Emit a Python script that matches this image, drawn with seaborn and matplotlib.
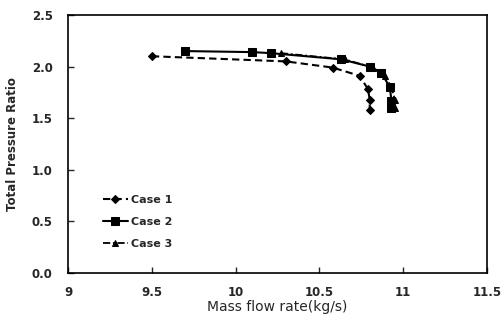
import numpy as np
import pandas as pd
import matplotlib
matplotlib.use("Agg")
import matplotlib.pyplot as plt
import seaborn as sns

# values
case1_flow = [9.50, 10.30, 10.58, 10.74, 10.79, 10.80, 10.80]
case1_pr = [2.10, 2.05, 1.99, 1.91, 1.78, 1.68, 1.58]

case2_flow = [9.70, 10.10, 10.21, 10.63, 10.80, 10.87, 10.92, 10.93, 10.93]
case2_pr = [2.15, 2.14, 2.13, 2.07, 2.00, 1.94, 1.80, 1.67, 1.60]

case3_flow = [10.27, 10.65, 10.82, 10.89, 10.93, 10.95, 10.95]
case3_pr = [2.13, 2.07, 1.99, 1.91, 1.80, 1.68, 1.60]

x_ticks = [9, 9.5, 10, 10.5, 11, 11.5]
x_tick_labels = ["9", "9.5", "10", "10.5", "11", "11.5"]
y_ticks = [0.0, 0.5, 1.0, 1.5, 2.0, 2.5]

sns.set_style("white")
plt.rcParams['font.family'] = ['DejaVu Sans']

fig, ax = plt.subplots(figsize=(5.01, 3.25), dpi=100)
fig.subplots_adjust(left=0.136, right=0.972, bottom=0.16, top=0.954)

common = dict(ax=ax, color="black", sort=False, estimator=None,
              markeredgecolor="black", markerfacecolor="black")
sns.lineplot(x=case1_flow, y=case1_pr, marker="D", markersize=4.5, linewidth=1.5,
             linestyle=(0, (3.5, 2)), label="Case 1", **common)
sns.lineplot(x=case2_flow, y=case2_pr, marker="s", markersize=6, linewidth=1.5,
             linestyle="-", label="Case 2", **common)
sns.lineplot(x=case3_flow, y=case3_pr, marker="^", markersize=5, linewidth=1.3,
             linestyle=(0, (4, 1.5, 1, 1.5)), label="Case 3", **common)

ax.set_xlim(9, 11.5)
ax.set_ylim(0, 2.5)
ax.set_xticks(x_ticks)
ax.set_xticklabels(x_tick_labels)
ax.set_yticks(y_ticks)
ax.set_yticklabels([f"{v:.1f}" for v in y_ticks])
ax.tick_params(axis="both", direction="in", length=4, width=1, labelsize=8.5,
               bottom=True, left=True, top=False, right=False)
ax.tick_params(axis="x", pad=9)
ax.tick_params(axis="y", pad=11)
for lbl in ax.get_xticklabels() + ax.get_yticklabels():
    lbl.set_fontweight("bold")

for sp in ax.spines.values():
    sp.set_color("black")
    sp.set_linewidth(1.2)

ax.set_xlabel("Mass flow rate(kg/s)", fontsize=10, labelpad=1)
ax.set_ylabel("Total Pressure Ratio", fontsize=8.5, fontweight="bold", labelpad=9)

leg = ax.legend(loc="upper left", bbox_to_anchor=(0.06, 0.34), frameon=False,
                fontsize=8, handlelength=2.2, handletextpad=0.3, labelspacing=1.05)
for t in leg.get_texts():
    t.set_fontweight("bold")

fig.savefig("out.png", dpi=100)
